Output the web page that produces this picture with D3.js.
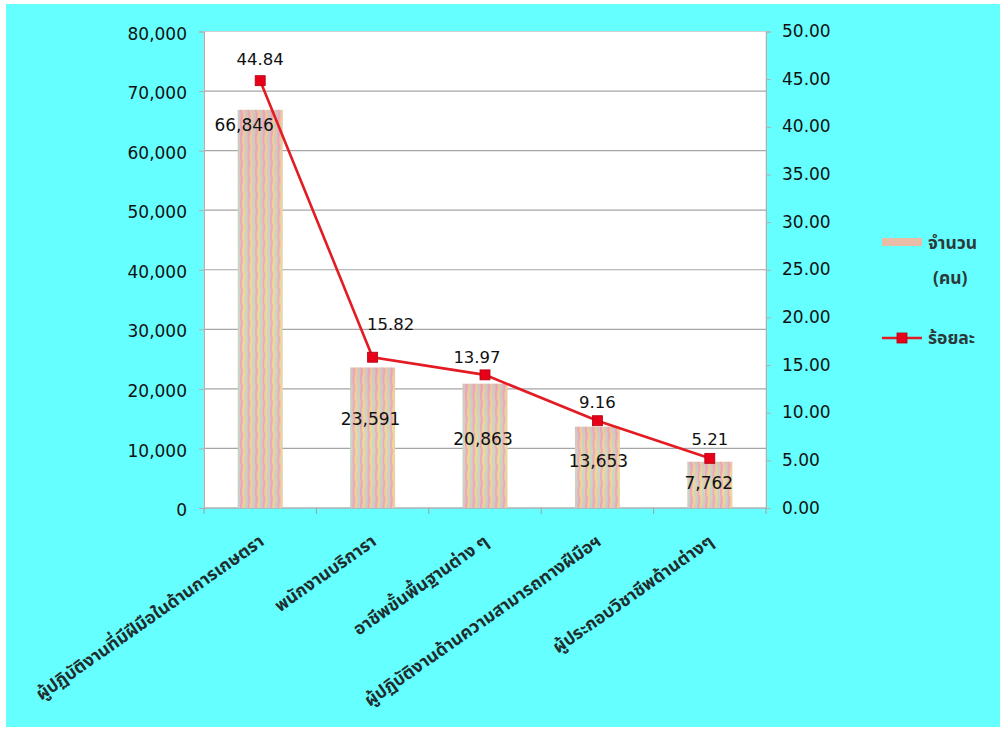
<!DOCTYPE html>
<html><head><meta charset="utf-8">
<script src="https://cdn.jsdelivr.net/npm/d3@7/dist/d3.min.js"></script>
<style>
html,body{margin:0;padding:0;background:#fff;}
svg{display:block;}
</style></head>
<body>
<svg id="chart" width="1005" height="731"></svg>
<script>
// ---- data ----
const categories = [
  "ผู้ปฏิบัติงานที่มีฝีมือในด้านการเกษตรา",
  "พนักงานบริการา",
  "อาชีพขั้นพื้นฐานต่าง ๆ",
  "ผู้ปฏิบัติงานด้านความสามารถทางฝีมือฯ",
  "ผู้ประกอบวิชาชีพด้านต่างๆ"
];
const counts = [66846, 23591, 20863, 13653, 7762];
const percents = [44.84, 15.82, 13.97, 9.16, 5.21];
const leftTicks = [0, 10000, 20000, 30000, 40000, 50000, 60000, 70000, 80000];
const rightTicks = [0, 5, 10, 15, 20, 25, 30, 35, 40, 45, 50];
const legendCount = ["จำนวน", "(คน)"];
const legendPct = "ร้อยละ";

// label nudges (presentation only)
const countLabelNudge = [[-16, 15], [-2, 52], [-2, 55], [1, 34], [-1, 21]];
const pctLabelNudge = [[0, -21], [18, -33], [-8, -18], [0, -18], [0, -19]];

const svg = d3.select("#chart");
const W = 1005, H = 731;
const plot = {left: 204, right: 766, top: 31.5, bottom: 508};

// background
svg.append("rect").attr("x", 6).attr("y", 4).attr("width", W - 11).attr("height", H - 8).attr("fill", "#66ffff");

// pattern for bars
const defs = svg.append("defs");
const pat = defs.append("pattern").attr("id", "barPat").attr("patternUnits", "userSpaceOnUse")
  .attr("width", 7.5).attr("height", 16);
pat.append("rect").attr("width", 7.5).attr("height", 16).attr("fill", "#ecccb4");
const wave = (x0) => `M${x0},0 C${x0+2},4 ${x0-2},12 ${x0},16`;
pat.append("path").attr("d", wave(1.2)).attr("stroke", "#e9a8c0").attr("stroke-width", 2.2).attr("fill", "none");
pat.append("path").attr("d", wave(3.7)).attr("stroke", "#f0dc8c").attr("stroke-width", 2.2).attr("fill", "none");
pat.append("path").attr("d", wave(6.1)).attr("stroke", "#b4dcd8").attr("stroke-width", 1.8).attr("fill", "none");
const grad = defs.append("linearGradient").attr("id", "barShade").attr("x1", 0).attr("y1", 0).attr("x2", 0).attr("y2", 1);
grad.append("stop").attr("offset", "0%").attr("stop-color", "#e890b0").attr("stop-opacity", 0.25);
grad.append("stop").attr("offset", "50%").attr("stop-color", "#f0d8a0").attr("stop-opacity", 0.1);
grad.append("stop").attr("offset", "100%").attr("stop-color", "#e890b0").attr("stop-opacity", 0.15);

// plot area
svg.append("rect").attr("x", plot.left).attr("y", plot.top)
  .attr("width", plot.right - plot.left).attr("height", plot.bottom - plot.top)
  .attr("fill", "#ffffff").attr("stroke", "#d0d0d0").attr("stroke-width", 1);

const x = d3.scaleBand().domain(categories).range([plot.left, plot.right]).paddingInner(0.6).paddingOuter(0.3);
const yL = d3.scaleLinear().domain([0, 80000]).range([plot.bottom, plot.top]);
const yR = d3.scaleLinear().domain([0, 50]).range([plot.bottom, plot.top]);

// gridlines
svg.append("g").selectAll("line").data(leftTicks.filter(d => d > 0 && d < 80000)).join("line")
  .attr("x1", plot.left).attr("x2", plot.right)
  .attr("y1", d => yL(d)).attr("y2", d => yL(d))
  .attr("stroke", "#a6a6a6").attr("stroke-width", 1.2);

const numFont = "'DejaVu Sans', Verdana, sans-serif";

// left axis
const gL = svg.append("g").attr("transform", `translate(${plot.left},0)`)
  .call(d3.axisLeft(yL).tickValues(leftTicks).tickFormat(d3.format(",")).tickSize(5).tickPadding(12));
gL.select(".domain").attr("stroke", "#b0b0b0");
gL.selectAll(".tick line").attr("stroke", "#b0b0b0");
gL.selectAll("text").attr("font-family", numFont).attr("font-size", 17).attr("fill", "#111").attr("dy", "0.45em");

// right axis
const gR = svg.append("g").attr("transform", `translate(${plot.right},0)`)
  .call(d3.axisRight(yR).tickValues(rightTicks).tickFormat(d3.format(".2f")).tickSize(5).tickPadding(11));
gR.select(".domain").attr("stroke", "#b0b0b0");
gR.selectAll(".tick line").attr("stroke", "#b0b0b0");
gR.selectAll("text").attr("font-family", numFont).attr("font-size", 17).attr("fill", "#111").attr("dy", "0.3em");

// x axis
const gX = svg.append("g").attr("transform", `translate(0,${plot.bottom})`);
gX.append("line").attr("x1", plot.left).attr("x2", plot.right).attr("stroke", "#a0a0a0").attr("stroke-width", 1.2);
const step = x.step();
const bounds = d3.range(categories.length + 1).map(i => plot.left + i * step);
gX.selectAll("line.tk").data(bounds).join("line").attr("class", "tk")
  .attr("x1", d => d).attr("x2", d => d).attr("y1", 0).attr("y2", 6).attr("stroke", "#a0a0a0");

// bars
const bars = svg.append("g");
bars.selectAll("rect.b").data(counts).join("rect").attr("class", "b")
  .attr("x", (d, i) => x(categories[i])).attr("width", x.bandwidth())
  .attr("y", d => yL(d)).attr("height", d => plot.bottom - yL(d))
  .attr("fill", "url(#barPat)");
bars.selectAll("rect.s").data(counts).join("rect").attr("class", "s")
  .attr("x", (d, i) => x(categories[i])).attr("width", x.bandwidth())
  .attr("y", d => yL(d)).attr("height", d => plot.bottom - yL(d))
  .attr("fill", "url(#barShade)");

// count labels
svg.append("g").selectAll("text").data(counts).join("text")
  .attr("x", (d, i) => x(categories[i]) + x.bandwidth() / 2 + countLabelNudge[i][0])
  .attr("y", (d, i) => yL(d) + countLabelNudge[i][1])
  .attr("dy", "0.35em").attr("text-anchor", "middle")
  .attr("font-family", numFont).attr("font-size", 17).attr("fill", "#111")
  .text(d => d3.format(",")(d));

// line
const cx = (i) => x(categories[i]) + x.bandwidth() / 2;
const line = d3.line().x((d, i) => cx(i)).y(d => yR(d));
svg.append("path").datum(percents).attr("d", line)
  .attr("fill", "none").attr("stroke", "#e31b23").attr("stroke-width", 2.6);
svg.append("g").selectAll("rect").data(percents).join("rect")
  .attr("x", (d, i) => cx(i) - 5).attr("y", d => yR(d) - 5)
  .attr("width", 10).attr("height", 10)
  .attr("fill", "#e8001a").attr("stroke", "#b00010").attr("stroke-width", 0.8);

// pct labels
svg.append("g").selectAll("text").data(percents).join("text")
  .attr("x", (d, i) => cx(i) + pctLabelNudge[i][0])
  .attr("y", (d, i) => yR(d) + pctLabelNudge[i][1])
  .attr("dy", "0.35em").attr("text-anchor", "middle")
  .attr("font-family", numFont).attr("font-size", 16.5).attr("fill", "#111")
  .text(d => d3.format(".2f")(d));

// category labels
const thaiFont = "'Noto Sans Thai', 'Noto Sans', Tahoma, 'DejaVu Sans', sans-serif";
svg.append("g").selectAll("text").data(categories).join("text")
  .attr("transform", (d) => `translate(${x(d) + x.bandwidth() / 2 + 5},${plot.bottom + 36}) rotate(-35)`)
  .attr("text-anchor", "end").attr("font-family", thaiFont).attr("font-size", 17.5)
  .attr("font-weight", "bold").attr("fill", "#1e2e2e")
  .text(d => d);

// legend
const lg = svg.append("g");
lg.append("rect").attr("x", 882).attr("y", 238).attr("width", 40).attr("height", 8).attr("fill", "#e8bca6");
lg.selectAll("text.c").data(legendCount).join("text").attr("class", "c")
  .attr("x", (d, i) => i === 0 ? 928 : 933).attr("y", (d, i) => 243 + i * 35)
  .attr("dy", "0.35em").attr("font-family", thaiFont).attr("font-size", 17.5).attr("font-weight", "bold")
  .attr("fill", "#2a3a3a").text(d => d);
lg.append("line").attr("x1", 882).attr("x2", 922).attr("y1", 338).attr("y2", 338)
  .attr("stroke", "#e31b23").attr("stroke-width", 2.6);
lg.append("rect").attr("x", 897).attr("y", 333).attr("width", 10).attr("height", 10)
  .attr("fill", "#e8001a").attr("stroke", "#b00010").attr("stroke-width", 0.8);
lg.append("text").attr("x", 928).attr("y", 338).attr("dy", "0.35em")
  .attr("font-family", thaiFont).attr("font-size", 17.5).attr("font-weight", "bold")
  .attr("fill", "#2a3a3a").text(legendPct);
</script>
</body></html>
